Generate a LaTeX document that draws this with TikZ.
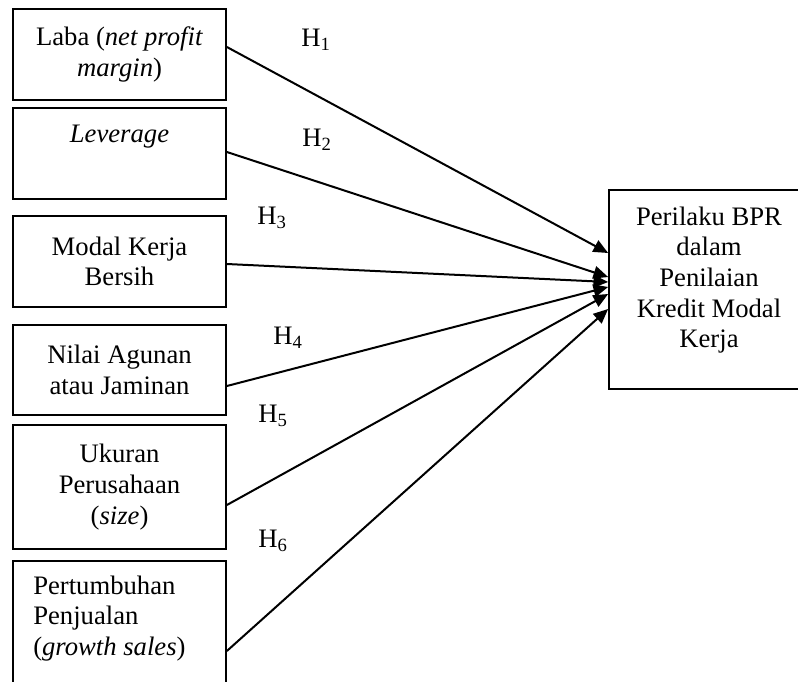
\documentclass[tikz,border=0pt]{standalone}
\usepackage{fontspec}
\setmainfont{Liberation Serif}
\usetikzlibrary{arrows.meta,calc}
\begin{document}
\begin{tikzpicture}[x=0.75pt,y=-0.75pt,
  txt/.style={font=\fontsize{20}{23}\selectfont, inner sep=0pt},
  box/.style={draw, line width=1.3pt, inner sep=0pt, minimum width=159.75pt, align=center, font=\fontsize{20}{23}\selectfont},
  arr/.style={line width=1.5pt, -{Triangle[length=11pt,width=9.5pt]}},
  hl/.style={font=\fontsize{20}{23}\selectfont, inner sep=0pt}]
\useasboundingbox (0,0) rectangle (798,681);
\clip (0,0) rectangle (798,681);
\node[box, minimum height=68.25pt] (b1) at (119.5,54.5) {Laba (\textit{net profit}\\ \textit{margin})};
\node[box, minimum height=68.25pt] (b2) at (119.5,153.5) {\textit{Leverage}\\ \strut};
\node[box, minimum height=68.25pt] (b3) at (119.5,261.5) {Modal Kerja\\ Bersih};
\node[box, minimum height=67.5pt] (b4) at (119.5,370) {Nilai Agunan\\ atau Jaminan};
\node[box, minimum height=93pt] (b5) at (119.5,487) {Ukuran\\ Perusahaan\\ (\textit{size})};
\node[box, minimum height=108pt] (b6) at (119.5,633) {};
\node[txt, anchor=west, align=left] (t6) at (33,618.5) {Pertumbuhan\\ Penjualan\\ (\textit{growth sales})};
\node[box, minimum width=172.5pt, minimum height=149.25pt] (r) at (724,289.5) {};
\node[txt, align=center] (tr) at (709,280) {Perilaku BPR\\ dalam\\ Penilaian\\ Kredit Modal\\ Kerja};
\draw[arr] ($(b1.east)+(0,-7.5)$) -- ($(r.west)+(0,-36.5)$);
\draw[arr] ($(b2.east)+(0,-1.5)$) -- ($(r.west)+(0,-12.5)$);
\draw[arr] ($(b3.east)+(0,2.5)$) -- ($(r.west)+(0,-7.5)$);
\draw[arr] ($(b4.east)+(0,16)$) -- ($(r.west)+(0,-2.5)$);
\draw[arr] ($(b5.east)+(0,18)$) -- ($(r.west)+(0,4.5)$);
\draw[arr] ($(b6.east)+(0,18)$) -- ($(r.west)+(0,19.5)$);
\node[hl] (h1) at (316,40) {H\textsubscript{1}};
\node[hl] (h2) at (317,140) {H\textsubscript{2}};
\node[hl] (h3) at (272,218) {H\textsubscript{3}};
\node[hl] (h4) at (288,338) {H\textsubscript{4}};
\node[hl] (h5) at (273,416) {H\textsubscript{5}};
\node[hl] (h6) at (273,541) {H\textsubscript{6}};
\end{tikzpicture}
\end{document}
